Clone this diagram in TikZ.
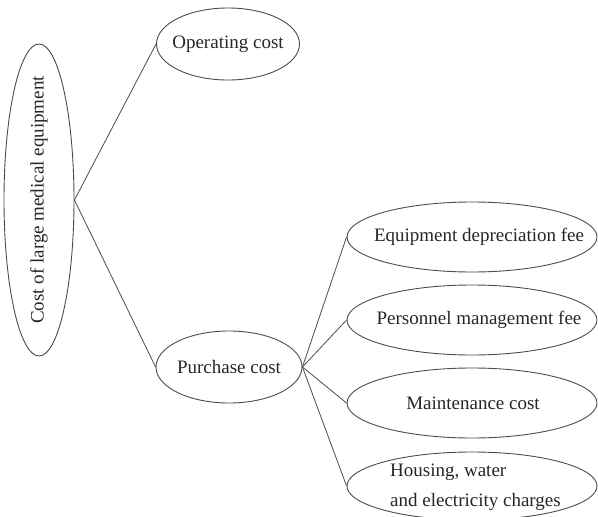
\documentclass[tikz,border=0pt]{standalone}
\usepackage{fontspec}
\setmainfont{Liberation Serif}
\usetikzlibrary{shapes.geometric}
\begin{document}
\begin{tikzpicture}[x=1pt,y=-1pt,
  oval/.style={draw=black!70, line width=0.9pt, ellipse, inner sep=0pt},
  link/.style={draw=black!70, line width=0.8pt},
  lbl/.style={font=\fontsize{19}{30}\selectfont, text=black!85, inner sep=0pt}]
\useasboundingbox (0,0) rectangle (598,517);
\node[oval, minimum width=70, minimum height=312] (root) at (39,200) {};
\node[lbl, rotate=90] (roottxt) at (39,200) {Cost of large medical equipment};
\node[oval, minimum width=143, minimum height=72] (op) at (228,44) {};
\node[lbl] (optxt) at (228,44) {Operating cost};
\node[oval, minimum width=146, minimum height=72] (pur) at (229,367) {};
\node[lbl] (purtxt) at (229,367) {Purchase cost};
\node[oval, minimum width=250, minimum height=70] (eq) at (472,237) {};
\node[lbl] (eqtxt) at (479,237) {Equipment depreciation fee};
\node[oval, minimum width=250, minimum height=70] (pers) at (472,320) {};
\node[lbl] (perstxt) at (479,320) {Personnel management fee};
\node[oval, minimum width=250, minimum height=70] (mt) at (472,403) {};
\node[lbl] (mttxt) at (473,403) {Maintenance cost};
\node[oval, minimum width=250, minimum height=68] (hs) at (472,486) {};
\node[lbl, align=left, anchor=west] (hstxt) at (390,487) {Housing, water\\and electricity charges};
\draw[link] (root.east) -- (op.west);
\draw[link] (root.east) -- (pur.west);
\draw[link] (pur.east) -- (eq.west);
\draw[link] (pur.east) -- (pers.west);
\draw[link] (pur.east) -- (mt.west);
\draw[link] (pur.east) -- (hs.west);
\end{tikzpicture}
\end{document}
